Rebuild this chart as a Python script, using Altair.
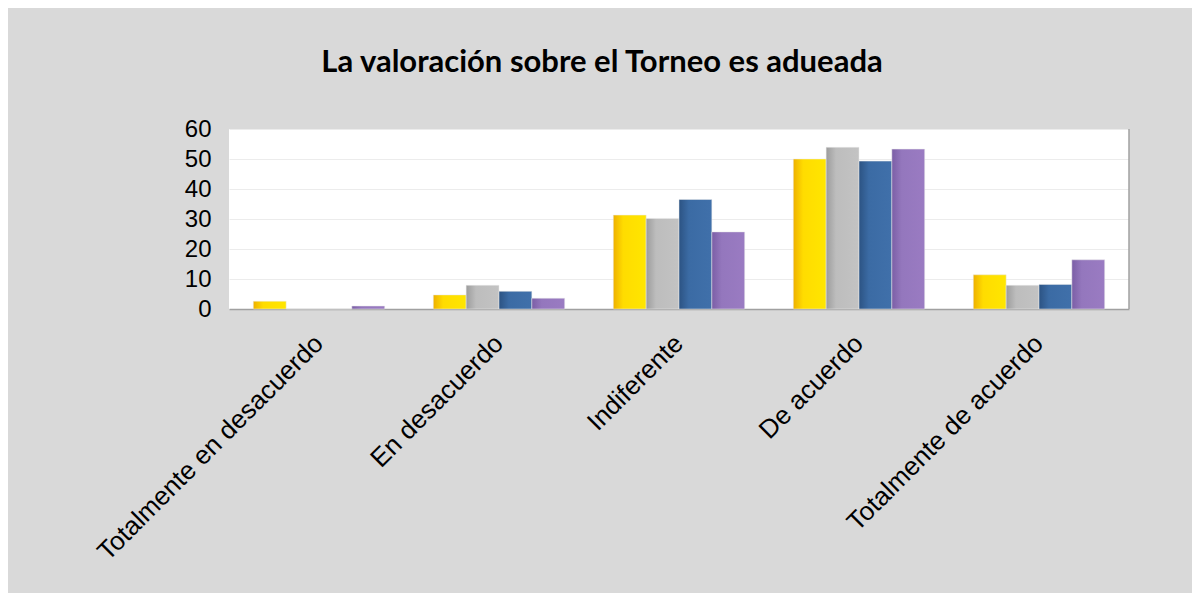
import altair as alt
import pandas as pd

categories = ["Totalmente en desacuerdo", "En desacuerdo", "Indiferente", "De acuerdo", "Totalmente de acuerdo"]
series_names = ["Serie 1", "Serie 2", "Serie 3", "Serie 4"]
serie1 = [2.6, 4.7, 31.3, 50.0, 11.4]
serie2 = [0.0, 7.9, 30.2, 53.9, 7.9]
serie3 = [0.0, 5.9, 36.5, 49.3, 8.2]
serie4 = [1.0, 3.6, 25.7, 53.3, 16.4]
title_text = "La valoración sobre el Torneo es adueada"

all_series = [serie1, serie2, serie3, serie4]
rows = []
for name, vals in zip(series_names, all_series):
    for c, v in zip(categories, vals):
        rows.append({"categoria": c, "serie": name, "valor": v})
df = pd.DataFrame(rows)

gradients = [
    ["#eeb000", "#ffdc00", "#ffe600"],
    ["#9c9c9c", "#bdbdbd", "#c3c3c3"],
    ["#2c5383", "#3b6ba4", "#4070aa"],
    ["#7b5ea6", "#9477bd", "#9a7bc2"],
]

x_enc = alt.X(
    "categoria:N",
    sort=categories,
    scale=alt.Scale(paddingInner=0.27, paddingOuter=0.135),
    axis=alt.Axis(
        title=None, labelAngle=-45, labelAlign="right", labelBaseline="middle",
        labelFont="Liberation Sans", labelFontSize=26, labelColor="#000000",
        labelPadding=30, ticks=False, domain=True, domainColor="#a0a0a0",
        domainWidth=1.5, grid=False, labelLimit=0,
    ),
)
y_enc = alt.Y(
    "valor:Q",
    scale=alt.Scale(domain=[0, 60], nice=False),
    axis=alt.Axis(
        title=None, values=[0, 10, 20, 30, 40, 50, 60], labelFont="Liberation Sans",
        labelFontSize=24, labelColor="#000000", labelPadding=18, ticks=False,
        domain=False, grid=True, gridColor="#ececec", gridWidth=1,
    ),
)
xoff = alt.XOffset("serie:N", sort=series_names, scale=alt.Scale(domain=series_names, paddingInner=0, paddingOuter=0))

layers = []
for name, stops in zip(series_names, gradients):
    grad = alt.Gradient(
        gradient="linear",
        stops=[
            alt.GradientStop(color=stops[0], offset=0),
            alt.GradientStop(color=stops[1], offset=0.3),
            alt.GradientStop(color=stops[2], offset=1),
        ],
        x1=0, x2=1, y1=0, y2=0,
    )
    layer = (
        alt.Chart(df)
        .transform_filter(alt.datum.serie == name)
        .mark_bar(color=grad, stroke="#e8e8e8", strokeWidth=0.5)
        .encode(x=x_enc, y=y_enc, xOffset=xoff)
    )
    layers.append(layer)

right_border = alt.Chart(pd.DataFrame({"a": [0]})).mark_rule(color="#a0a0a0", strokeWidth=1.5).encode(
    x=alt.value(900), y=alt.value(0), y2=alt.value(180)
)
title = alt.Chart(pd.DataFrame({"t": [title_text]})).mark_text(
    font="Lato", fontWeight="bold", fontSize=31, color="#000000", align="center", baseline="alphabetic"
).encode(text="t:N", x=alt.value(373), y=alt.value(-57))

chart = (
    alt.layer(*layers, right_border, title)
    .properties(
        width=900, height=180,
        padding={"left": 221, "top": 121, "right": 63, "bottom": 284},
        autosize=alt.AutoSizeParams(type="none"),
        background="#d9d9d9",
    )
    .configure_view(stroke=None, fill="#ffffff")
)

chart.save("out.html", embed_options={"renderer": "svg", "actions": False})
